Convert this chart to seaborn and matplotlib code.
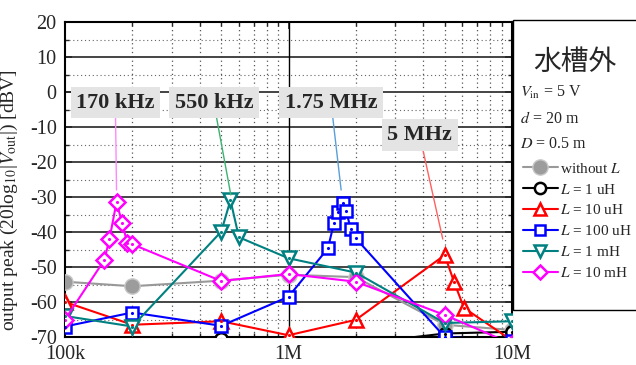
import numpy as np
import pandas as pd
import seaborn as sns
import matplotlib
matplotlib.use("Agg")
import matplotlib.pyplot as plt
from matplotlib.lines import Line2D
from matplotlib.patches import Rectangle
from matplotlib.ticker import FixedLocator, NullFormatter

## Données

f_base = [100e3, 200e3, 500e3, 1e6, 2e6, 5e6, 10e6]
v_without = [-54.2, -55.5, -53.9, -52.2, -52.9, -66.5, -68.0]
v_1uH = [-72.0, -72.0, -70.5, -72.0, -72.0, -69.0, -68.5]

f_10uH = [100e3, 200e3, 500e3, 1e6, 2e6, 5e6, 5.5e6, 6.1e6, 10e6]
v_10uH = [-60.0, -66.5, -65.5, -69.5, -65.1, -46.6, -54.2, -61.7, -71.0]

f_100uH = [100e3, 200e3, 500e3, 1e6, 1.5e6, 1.6e6, 1.67e6, 1.75e6, 1.81e6, 1.9e6, 2e6, 5e6, 10e6]
v_100uH = [-67.0, -63.0, -66.8, -58.5, -44.7, -37.3, -34.2, -31.6, -33.9, -39.2, -41.8, -70.0, -71.0]

f_1mH = [100e3, 200e3, 500e3, 550e3, 600e3, 1e6, 2e6, 5e6, 10e6]
v_1mH = [-64.0, -67.0, -39.9, -30.9, -41.5, -47.5, -51.6, -66.0, -65.5]

f_10mH = [100e3, 150e3, 158e3, 170e3, 180e3, 190e3, 200e3, 500e3, 1e6, 2e6, 5e6, 10e6]
v_10mH = [-65.0, -48.0, -42.1, -31.5, -37.3, -43.2, -43.5, -54.0, -52.0, -54.2, -63.7, -72.0]

labels = ["without $L$", "$L$ = 1 uH", "$L$ = 10 uH", "$L$ = 100 uH", "$L$ = 1 mH", "$L$ = 10 mH"]

## Style

sns.set_style("ticks")
plt.rcParams["font.family"] = ["Liberation Serif", "Noto Sans CJK JP"]
plt.rcParams["mathtext.fontset"] = "stix"
plt.rcParams["axes.unicode_minus"] = False

fig = plt.figure(figsize=(6.36, 3.65), dpi=100)
ax = fig.add_axes([65 / 636, 1 - 337 / 365, 447 / 636, 315 / 365])

series = [
    (f_base, v_without, "#999999", "o"),
    (f_base, v_1uH, "black", "o"),
    (f_10uH, v_10uH, "#ff0000", "^"),
    (f_100uH, v_100uH, "#0000ff", "s"),
    (f_1mH, v_1mH, "#008080", "v"),
    (f_10mH, v_10mH, "#ff00ff", "D"),
]
msizes = [11, 9, 10, 8, 10, 8]

for (f, v, c, m), ms in zip(series, msizes):
    if c == "#999999":
        sns.lineplot(x=f, y=v, ax=ax, color=c, lw=1.5, marker=m, ms=ms,
                     mfc="#9c9c9c", mec="#c8c8c8", mew=1, zorder=3)
    else:
        sns.lineplot(x=f, y=v, ax=ax, color=c, lw=1.5, marker=m, ms=ms,
                     mfc="white", mec=c, mew=1.8, zorder=3)
        ax.plot(f, v, ls="none", marker=".", ms=2.5, color=c, zorder=4)

ax.set_xscale("log")
ax.set_xlim(100e3, 10e6)
ax.set_ylim(-70, 20)
ax.set_xticks([100e3, 1e6, 10e6])
ax.set_xticklabels(["100k", "1M", "10M"])
minors = [k * 10 ** e for e in (5, 6) for k in range(2, 10)]
ax.xaxis.set_minor_locator(FixedLocator(minors))
ax.xaxis.set_minor_formatter(NullFormatter())
ax.set_yticks(np.arange(-70, 21, 10))
ax.set_yticks(np.arange(-65, 20, 10), minor=True)
ax.tick_params(axis="both", which="both", direction="in", top=True, right=True,
               labelsize=14.5, pad=6)
ax.tick_params(which="major", length=5, width=1.2)
ax.tick_params(which="minor", length=3, width=1)

# grille
ax.grid(which="major", axis="y", color="#444444", lw=1.4)
ax.grid(which="minor", axis="y", color="#666666", lw=0.8, ls=(0, (1, 2.5)))
ax.grid(which="minor", axis="x", color="#555555", lw=0.9, ls=(0, (1, 2.5)))
ax.axvline(1e6, color="black", lw=1)
for s in ax.spines.values():
    s.set_linewidth(1.5)
    s.set_color("black")

ax.set_ylabel(r"output peak (20log$_{10}$|$V_{\rm out}$|) [dBV]", fontsize=14)
ax.yaxis.set_label_coords(-0.1, 0.435)
ax.set_xlabel("")

# annotations
notes = [
    ("170 kHz", (170e3, -28), (168e3, -3), "#ff88ff"),
    ("550 kHz", (552e3, -29.4), (463e3, -3), "#3cb371"),
    ("1.75 MHz", (1.72e6, -28), (1.55e6, -3), "#5a9fd8"),
    ("5 MHz", (4.9e6, -42), (3.86e6, -12.3), "#ff6060"),
]
for txt, xy, xyt, c in notes:
    ax.annotate(txt, xy=xy, xytext=xyt, ha="center", va="center", fontsize=16,
                fontweight="bold",
                bbox=dict(boxstyle="square,pad=0.25", fc="#e4e4e4", ec="none"),
                arrowprops=dict(arrowstyle="-", color=c, lw=1, shrinkA=0, shrinkB=0),
                zorder=5)

# légende
fig.patches.append(Rectangle((513 / 636, 1 - 310 / 365), 130 / 636, 290 / 365,
                             transform=fig.transFigure, fill=False, ec="black", lw=1))
fig.text(575 / 636, 1 - 62 / 365, "水槽外", ha="center", va="center", fontsize=20,
         family=["Noto Sans CJK JP"])
fig.text(520 / 636, 1 - 92 / 365, r"$V_{\rm in}$ = 5 V", ha="left", va="center", fontsize=11.5)
fig.text(520 / 636, 1 - 119 / 365, r"$d$ = 20 m", ha="left", va="center", fontsize=11.5)
fig.text(520 / 636, 1 - 144 / 365, r"$D$ = 0.5 m", ha="left", va="center", fontsize=11.5)

handles = []
for (f, v, c, m), ms in zip(series, msizes):
    if c == "#999999":
        handles.append(Line2D([], [], color=c, lw=1.5, marker=m, ms=ms, mfc="#9c9c9c", mec="#c8c8c8"))
    else:
        handles.append(Line2D([], [], color=c, lw=1.5, marker=m, ms=ms * 0.9, mfc="white", mec=c, mew=1.8))
fig.legend(handles, labels, loc="upper left", bbox_to_anchor=(515 / 636, 1 - 154 / 365),
           frameon=False, fontsize=11, handlelength=2.3, handletextpad=0.15,
           labelspacing=0.45, borderpad=0)

fig.savefig("out.png", dpi=100)
